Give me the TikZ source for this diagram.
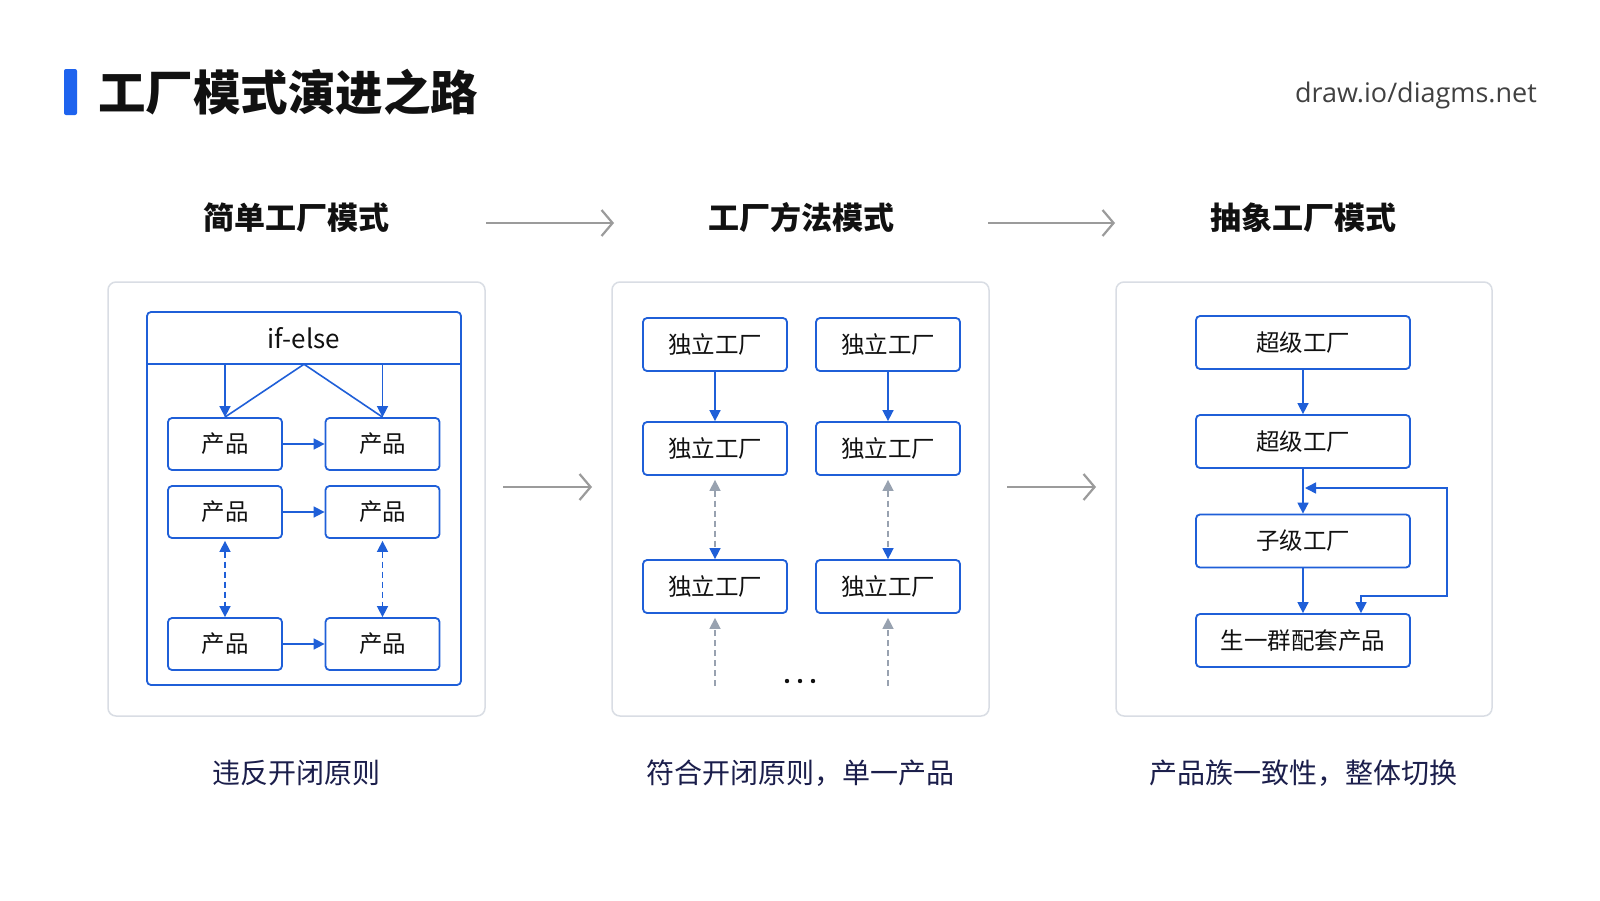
\documentclass[tikz,border=0pt]{standalone}
\usepackage{fontspec}
\setmainfont{Noto Sans CJK SC}
\newfontfamily\wmfont{Open Sans}
\usetikzlibrary{arrows.meta}
\definecolor{blu}{HTML}{1F5FD8}
\definecolor{barc}{HTML}{1E63EE}
\definecolor{pnl}{HTML}{D9DDE4}
\definecolor{gry}{HTML}{9B9B9B}
\definecolor{dgry}{HTML}{98A2B0}
\definecolor{navy}{HTML}{1B1E4B}
\definecolor{ink}{HTML}{111111}
\tikzset{
  panel/.style={draw=pnl, line width=1.5pt, rounded corners=8pt, fill=white, inner sep=0pt},
  boxn/.style={draw=blu, line width=1.8pt, rounded corners=4pt, fill=white, inner sep=0pt, text=ink, font=\fontsize{23.5}{25}\selectfont},
  arr/.style={draw=blu, line width=1.6pt, -{Triangle[width=11pt,length=11pt]}},
  dblarr/.style={draw=blu, line width=1.6pt, dash pattern=on 6pt off 4pt, {Triangle[width=11pt,length=11pt]}-{Triangle[width=11pt,length=11pt]}},
  grydbl/.style={draw=dgry, line width=1.5pt, dash pattern=on 6pt off 4pt, {Triangle[width=11pt,length=11pt,color=dgry]}-{Triangle[width=11pt,length=11pt,color=blu]}},
  gryup/.style={draw=dgry, line width=1.5pt, dash pattern=on 6pt off 4pt, -{Triangle[width=11pt,length=11pt,color=dgry]}},
  bigarr/.style={draw=gry, line width=2.2pt, -{Straight Barb[length=11pt,width=26pt,line width=2.2pt]}},
  sect/.style={font=\fontsize{31}{34}\selectfont\bfseries, text=ink},
  capt/.style={font=\fontsize{28}{30}\selectfont, text=navy},
}
\begin{document}
\begin{tikzpicture}[x=1pt,y=-1pt]
\useasboundingbox (0,0) rectangle (1600,900);
\fill[white] (0,0) rectangle (1600,900);

% title
\fill[barc, rounded corners=2pt] (64,69) rectangle (77,115);
\node[anchor=west, inner sep=0pt, text=ink, font=\fontsize{47.5}{50}\selectfont\bfseries] (title) at (98,92) {工厂模式演进之路};
\node[anchor=east, inner sep=0pt, text=ink!80, font=\wmfont\fontsize{27}{30}\selectfont] (wm) at (1537,95) {draw.io/diagms.net};

% section titles
\node[sect] (s1) at (296,218) {简单工厂模式};
\node[sect] (s2) at (801,218) {工厂方法模式};
\node[sect] (s3) at (1303,218) {抽象工厂模式};
\coordinate (ta1) at (486,223); \coordinate (tb1) at (614,223);
\coordinate (ta2) at (988,223); \coordinate (tb2) at (1115,223);
\draw[bigarr] (ta1) -- (tb1);
\draw[bigarr] (ta2) -- (tb2);

% panels
\node[panel, minimum width=377pt, minimum height=434pt] (p1) at (296.5,499) {};
\node[panel, minimum width=377pt, minimum height=434pt] (p2) at (800.5,499) {};
\node[panel, minimum width=376pt, minimum height=434pt] (p3) at (1304,499) {};
\coordinate (pa1) at (503,487); \coordinate (pb1) at (592,487);
\coordinate (pa2) at (1007,487); \coordinate (pb2) at (1096,487);
\draw[bigarr] (pa1) -- (pb1);
\draw[bigarr] (pa2) -- (pb2);

% ---- panel 1
\node[draw=blu, line width=1.8pt, rounded corners=4pt, inner sep=0pt, minimum width=314pt, minimum height=373pt] (cont) at (304,498.5) {};
\node[inner sep=0pt, minimum width=314pt, minimum height=52pt, text=ink, font=\fontsize{26}{28}\selectfont] (hdr) at (304,338) {if-else};
\draw[blu, line width=1.8pt] (hdr.south west) -- (hdr.south east);
\foreach \n/\x/\y in {a1/225/444, b1/382.5/444, a2/225/512, b2/382.5/512, a3/225/644, b3/382.5/644}{
  \node[boxn, minimum width=114pt, minimum height=52pt] (\n) at (\x,\y) {产品};
}
\draw[arr] (hdr.south -| a1.north) -- (a1.north);
\draw[arr] (hdr.south -| b1.north) -- (b1.north);
\draw[blu, line width=1.6pt] (hdr.south) -- (a1.north);
\draw[blu, line width=1.6pt] (hdr.south) -- (b1.north);
\draw[arr] (a1) -- (b1);
\draw[arr] (a2) -- (b2);
\draw[arr] (a3) -- (b3);
\draw[dblarr, shorten <=2pt] (a2.south) -- (a3.north);
\draw[dblarr, shorten <=2pt] (b2.south) -- (b3.north);

% ---- panel 2
\foreach \n/\x/\y in {c1/715/344.5, d1/888/344.5, c2/715/448.5, d2/888/448.5, c3/715/586.5, d3/888/586.5}{
  \node[boxn, minimum width=144pt, minimum height=53pt] (\n) at (\x,\y) {独立工厂};
}
\draw[arr] (c1) -- (c2);
\draw[arr] (d1) -- (d2);
\draw[grydbl, shorten <=4pt] (c2.south) -- (c3.north);
\draw[grydbl, shorten <=4pt] (d2.south) -- (d3.north);
\coordinate (e1) at (715,686); \coordinate (e2) at (888,686);
\draw[gryup, shorten >=4pt] (e1) -- (c3.south);
\draw[gryup, shorten >=4pt] (e2) -- (d3.south);
\foreach \x in {787,800,813} \fill[ink] (\x,681) circle (2.2pt);

% ---- panel 3
\node[boxn, minimum width=214pt, minimum height=53pt] (f1) at (1303,342.5) {超级工厂};
\node[boxn, minimum width=214pt, minimum height=53pt] (f2) at (1303,441.5) {超级工厂};
\node[boxn, minimum width=214pt, minimum height=53pt] (f3) at (1303,541) {子级工厂};
\node[boxn, minimum width=214pt, minimum height=53pt] (f4) at (1303,640.5) {生一群配套产品};
\draw[arr] (f1) -- (f2);
\draw[arr] (f2) -- (f3);
\draw[arr] (f3) -- (f4);
\coordinate (lp) at (1447,488);
\coordinate (lq) at (1447,596);
\coordinate (lr) at (1361,596);
\coordinate (ls) at (1305,488);
\draw[blu, line width=1.6pt, {Triangle[width=11pt,length=11pt]}-{Triangle[width=11pt,length=11pt]}] (lr |- f4.north) -- (lr) -- (lq) -- (lp) -- (ls);

% captions
\node[capt] (c1t) at (296,773) {违反开闭原则};
\node[capt] (c2t) at (800,773) {符合开闭原则，单一产品};
\node[capt] (c3t) at (1303,773) {产品族一致性，整体切换};
\end{tikzpicture}
\end{document}
